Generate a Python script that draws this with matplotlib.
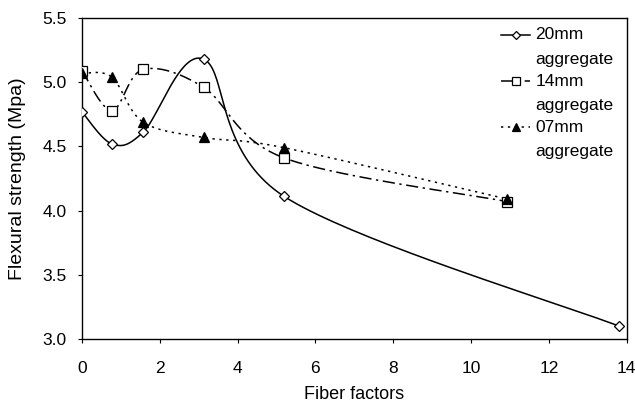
import numpy as np
import matplotlib
matplotlib.use("Agg")
import matplotlib.pyplot as plt
from matplotlib.lines import Line2D
from matplotlib.legend_handler import HandlerLine2D

plt.rcParams['font.family'] = ['Liberation Sans', 'DejaVu Sans']

x20 = [0.0, 0.77, 1.57, 3.13, 5.2, 13.8]
y20 = [4.77, 4.52, 4.61, 5.18, 4.11, 3.10]
x14 = [0.0, 0.77, 1.57, 3.13, 5.2, 10.93]
y14 = [5.09, 4.78, 5.10, 4.96, 4.41, 4.07]
x07 = [0.0, 0.77, 1.57, 3.13, 5.2, 10.93]
y07 = [5.07, 5.04, 4.69, 4.57, 4.49, 4.09]
labels = ["20mm\naggregate", "14mm\naggregate", "07mm\naggregate"]


def smooth(x, y, n=40):
    P = np.column_stack([x, y]).astype(float)
    m = len(P)
    out = []
    for i in range(m - 1):
        p0 = P[i - 1] if i > 0 else P[i]
        p1 = P[i]
        p2 = P[i + 1]
        p3 = P[i + 2] if i + 2 < m else P[i + 1]
        c1 = p1 + (p2 - p0) / 6.0
        c2 = p2 - (p3 - p1) / 6.0
        t = np.linspace(0, 1, n)[:, None]
        seg = ((1 - t) ** 3) * p1 + 3 * ((1 - t) ** 2) * t * c1 + 3 * (1 - t) * t ** 2 * c2 + t ** 3 * p2
        out.append(seg if i == 0 else seg[1:])
    s = np.vstack(out)
    return s[:, 0], s[:, 1]


class FirstLineHandler(HandlerLine2D):
    def create_artists(self, legend, orig_handle, xdescent, ydescent,
                       width, height, fontsize, trans):
        return super().create_artists(legend, orig_handle, xdescent,
                                      ydescent - 18, width, height,
                                      fontsize, trans)


fig = plt.figure(figsize=(6.35, 4.03), dpi=100)
ax = fig.add_axes([0.129, 0.159, 0.858, 0.796])

styles = [
    dict(ls='-', marker='D', mfc='white', ms=5.5),
    dict(ls=(0, (8, 3, 1.5, 3)), marker='s', mfc='white', ms=7.5),
    dict(ls=(0, (1.5, 3)), marker='^', mfc='black', ms=7.5),
]
handles = []
for (xs, ys), st, lab in zip([(x20, y20), (x14, y14), (x07, y07)], styles, labels):
    sx, sy = smooth(xs, ys)
    ax.plot(sx, sy, color='black', lw=1.1, ls=st['ls'])
    ax.plot(xs, ys, ls='none', marker=st['marker'], mfc=st['mfc'], mec='black',
            mew=0.9, ms=st['ms'], zorder=3)
    handles.append(Line2D([], [], color='black', lw=1.1, ls=st['ls'],
                          marker=st['marker'], mfc=st['mfc'], mec='black',
                          mew=0.9, ms=st['ms'] * 0.8))

ax.set_xlim(0, 14)
ax.set_ylim(3.0, 5.5)
ax.set_xticks(np.arange(0, 15, 2))
ax.set_yticks(np.arange(3.0, 5.51, 0.5))
ax.set_yticklabels([f"{v:.1f}" for v in np.arange(3.0, 5.51, 0.5)])
ax.tick_params(labelsize=12.5, length=3, width=0.8, direction='out')
ax.tick_params(axis='x', pad=13)
ax.tick_params(axis='y', pad=8)
for sp in ax.spines.values():
    sp.set_linewidth(1.0)
ax.set_xlabel("Fiber factors", fontsize=13, labelpad=7)
ax.set_ylabel("Flexural strength (Mpa)", fontsize=14, labelpad=12)

leg = ax.legend(handles, labels, loc='upper right', frameon=False, fontsize=12.5,
                handlelength=1.7, handletextpad=0.3, labelspacing=0.38,
                borderaxespad=0.45, bbox_to_anchor=(1.003, 1.017),
                handler_map={Line2D: FirstLineHandler(numpoints=1)})
for t in leg.get_texts():
    t.set_linespacing(1.8)

fig.savefig("out.png", dpi=100)
